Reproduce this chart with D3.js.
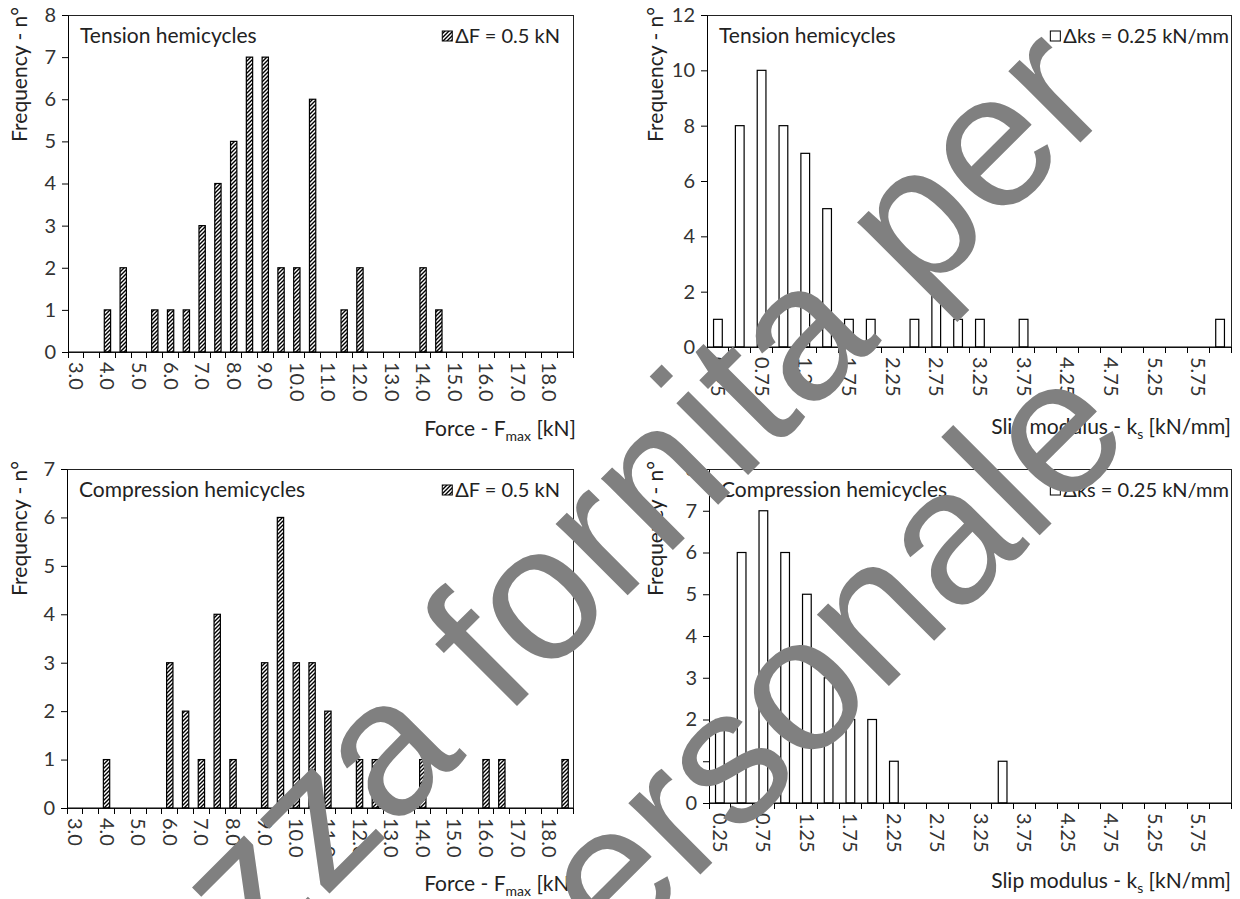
<!DOCTYPE html>
<html>
<head>
<meta charset="utf-8">
<script src="https://cdn.jsdelivr.net/npm/d3@7"></script>
<style>
  body { margin: 0; background: #fff; }
  svg { display: block; font-family: Lato, 'Liberation Sans', sans-serif; }
</style>
</head>
<body>
<svg id="chart" width="1240" height="899"></svg>
<script>
  // bins (class lower bounds) and frequencies
  const forceBins = ['3.0','3.5','4.0','4.5','5.0','5.5','6.0','6.5','7.0','7.5','8.0','8.5','9.0','9.5','10.0','10.5',
    '11.0','11.5','12.0','12.5','13.0','13.5','14.0','14.5','15.0','15.5','16.0','16.5','17.0','17.5','18.0','18.5'];
  const forceTickLabels = ['3.0','4.0','5.0','6.0','7.0','8.0','9.0','10.0','11.0','12.0','13.0','14.0','15.0','16.0','17.0','18.0'];
  const forceTension = [0,0,1,2,0,1,1,1,3,4,5,7,7,2,2,6,0,1,2,0,0,0,2,1,0,0,0,0,0,0,0,0];
  const forceCompression = [0,0,1,0,0,0,3,2,1,4,1,0,3,6,3,3,2,0,1,1,0,0,1,0,0,0,1,1,0,0,0,1];

  const slipBins = ['0.25','0.50','0.75','1.00','1.25','1.50','1.75','2.00','2.25','2.50','2.75','3.00',
    '3.25','3.50','3.75','4.00','4.25','4.50','4.75','5.00','5.25','5.50','5.75','6.00'];
  const slipTickLabels = ['0.25','0.75','1.25','1.75','2.25','2.75','3.25','3.75','4.25','4.75','5.25','5.75'];
  const slipTension = [1,8,10,8,7,5,1,1,0,1,2,1,1,0,1,0,0,0,0,0,0,0,0,1];
  const slipCompression = [2,6,7,6,5,3,2,2,1,0,0,0,0,1,0,0,0,0,0,0,0,0,0,0];

  const yTicksForceTension = [0,1,2,3,4,5,6,7,8];
  const yTicksSlipTension = [0,2,4,6,8,10,12];
  const yTicksForceCompression = [0,1,2,3,4,5,6,7];
  const yTicksSlipCompression = [0,1,2,3,4,5,6,7,8];

  const svg = d3.select('#chart');

  const defs = svg.append('defs');
  defs.append('pattern')
      .attr('id', 'hatch')
      .attr('patternUnits', 'userSpaceOnUse')
      .attr('width', 4)
      .attr('height', 4)
    .append('path')
      .attr('d', 'M-1,1 l2,-2 M0,4 l4,-4 M3,5 l2,-2')
      .attr('stroke', '#000')
      .attr('stroke-width', 1.4);

  const panels = [
    { label: 'Tension hemicycles', bins: forceBins, tickLabels: forceTickLabels, values: forceTension,
      yTicks: yTicksForceTension, legend: '\u0394F = 0.5 kN', hatched: true,
      xTitle: ['Force - F', 'max', ' [kN]'],
      box: { l: 68, r: 573, t: 15, b: 352 }, yTitleX: 27, xTitleX: 576, xTitleY: 436, legendEnd: 560 },
    { label: 'Tension hemicycles', bins: slipBins, tickLabels: slipTickLabels, values: slipTension,
      yTicks: yTicksSlipTension, legend: '\u0394ks = 0.25 kN/mm', hatched: false,
      xTitle: ['Slip modulus - k', 's', ' [kN/mm]'],
      box: { l: 707, r: 1231, t: 15, b: 347 }, yTitleX: 663, xTitleX: 1231, xTitleY: 434, legendEnd: 1229 },
    { label: 'Compression hemicycles', bins: forceBins, tickLabels: forceTickLabels, values: forceCompression,
      yTicks: yTicksForceCompression, legend: '\u0394F = 0.5 kN', hatched: true,
      xTitle: ['Force - F', 'max', ' [kN]'],
      box: { l: 67, r: 573, t: 469, b: 808 }, yTitleX: 27, xTitleX: 576, xTitleY: 891, legendEnd: 560 },
    { label: 'Compression hemicycles', bins: slipBins, tickLabels: slipTickLabels, values: slipCompression,
      yTicks: yTicksSlipCompression, legend: '\u0394ks = 0.25 kN/mm', hatched: false,
      xTitle: ['Slip modulus - k', 's', ' [kN/mm]'],
      box: { l: 709, r: 1231, t: 469, b: 803 }, yTitleX: 663, xTitleX: 1231, xTitleY: 888, legendEnd: 1229 }
  ];

  const drawPanel = (g, p) => {
    const { l, r, t, b } = p.box;
    const yMax = d3.max(p.yTicks);

    const x = d3.scaleBand()
      .domain(p.bins)
      .range([l, r])
      .paddingInner(0.6)
      .paddingOuter(0.3);

    const y = d3.scaleLinear()
      .domain([0, yMax])
      .range([b, t]);

    // plot frame
    g.append('rect')
      .attr('x', l).attr('y', t)
      .attr('width', r - l).attr('height', b - t)
      .attr('fill', 'none')
      .attr('stroke', '#222')
      .attr('stroke-width', 1)
      .attr('shape-rendering', 'crispEdges');

    // bars
    g.selectAll('rect.bar')
      .data(p.bins.map((bin, i) => ({ bin, v: p.values[i] })).filter(d => d.v > 0))
      .enter().append('rect')
        .attr('class', 'bar')
        .attr('x', d => x(d.bin))
        .attr('y', d => y(d.v))
        .attr('width', x.bandwidth())
        .attr('height', d => y(0) - y(d.v))
        .attr('fill', p.hatched ? 'url(#hatch)' : '#fff')
        .attr('stroke', '#000')
        .attr('stroke-width', 1.2);

    // y axis
    const yAxisG = g.append('g')
      .attr('transform', `translate(${l},0)`)
      .call(d3.axisLeft(y)
        .tickValues(p.yTicks)
        .tickFormat(d3.format('d'))
        .tickSize(6).tickSizeOuter(0).tickPadding(6));
    yAxisG.select('.domain').attr('stroke', '#000');
    yAxisG.selectAll('.tick line').attr('stroke', '#000');
    yAxisG.selectAll('.tick text')
      .attr('font-family', 'Lato, sans-serif')
      .attr('font-size', 20)
      .attr('fill', '#333');

    // x axis: ticks on category boundaries, labels every other bin
    g.append('line')
      .attr('x1', l).attr('x2', r)
      .attr('y1', b).attr('y2', b)
      .attr('stroke', '#000');
    g.selectAll('line.xtick')
      .data(d3.range(p.bins.length + 1))
      .enter().append('line')
        .attr('class', 'xtick')
        .attr('x1', i => l + i * x.step())
        .attr('x2', i => l + i * x.step())
        .attr('y1', b)
        .attr('y2', b + 6)
        .attr('stroke', '#000')
        .attr('shape-rendering', 'crispEdges');
    g.selectAll('text.xlab')
      .data(p.tickLabels)
      .enter().append('text')
        .attr('class', 'xlab')
        .attr('transform', d => `translate(${x(d) + x.bandwidth() / 2},${b + 10}) rotate(90)`)
        .attr('dy', '0.35em')
        .attr('font-size', 20)
        .attr('fill', '#333')
        .text(d => d);

    // y title
    g.append('text')
      .attr('transform', `translate(${p.yTitleX},${t - 8}) rotate(-90)`)
      .attr('text-anchor', 'end')
      .attr('font-size', 21)
      .attr('fill', '#222')
      .text('Frequency - n\u00b0');

    // x title with subscript
    const xt = g.append('text')
      .attr('x', p.xTitleX)
      .attr('y', p.xTitleY)
      .attr('text-anchor', 'end')
      .attr('font-size', 21)
      .attr('fill', '#222');
    xt.append('tspan').text(p.xTitle[0]);
    xt.append('tspan').attr('font-size', 14).attr('dy', 5).text(p.xTitle[1]);
    xt.append('tspan').attr('dy', -5).text(p.xTitle[2]);

    // panel label
    g.append('text')
      .attr('x', l + 12)
      .attr('y', t + 28)
      .attr('font-size', 21)
      .attr('fill', '#222')
      .text(p.label);

    // legend
    const lt = g.append('text')
      .attr('x', p.legendEnd)
      .attr('y', t + 28)
      .attr('text-anchor', 'end')
      .attr('font-size', 20)
      .attr('fill', '#222')
      .text(p.legend);
    const lw = lt.node().getComputedTextLength();
    g.append('rect')
      .attr('x', p.legendEnd - lw - 13)
      .attr('y', t + 16)
      .attr('width', 10)
      .attr('height', 10)
      .attr('fill', p.hatched ? 'url(#hatch)' : '#fff')
      .attr('stroke', '#000')
      .attr('stroke-width', 1);
  };

  panels.forEach(p => drawPanel(svg.append('g'), p));

  // watermark overlay
  const wm = svg.append('g')
    .attr('fill', '#808080')
    .attr('font-family', "'Liberation Sans', Arial, sans-serif")
    .attr('font-size', 192);
  wm.append('text')
    .attr('transform', 'translate(256,967) rotate(-45)')
    .text('zza fornita per');
  wm.append('text')
    .attr('transform', 'translate(540,1035) rotate(-45)')
    .text('personale');
</script>
</body>
</html>
